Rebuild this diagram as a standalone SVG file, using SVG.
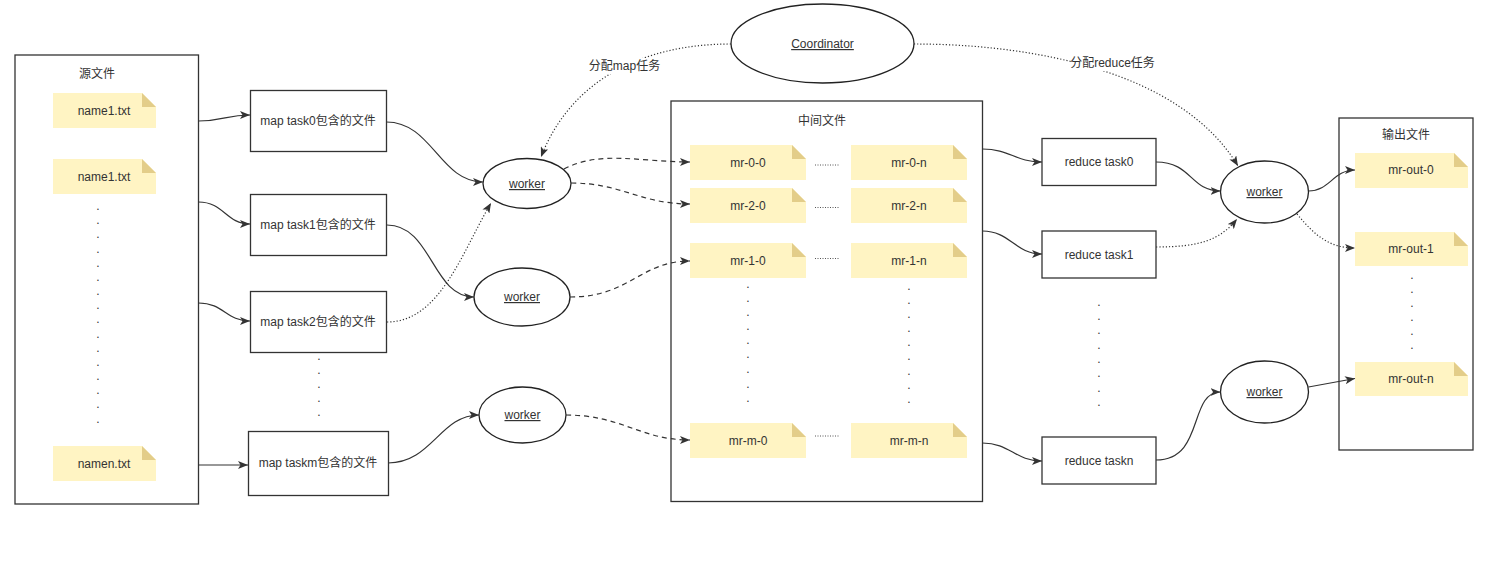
<svg xmlns="http://www.w3.org/2000/svg" width="1496" height="563" viewBox="0 0 1496 563">
<style>
text{font-family:"Liberation Sans","Noto Sans CJK SC",sans-serif;font-size:12px;fill:#333;text-anchor:middle}
.box{fill:#fff;stroke:#333;stroke-width:1.3}
.note{fill:#fff4c3}
.fold{fill:#e3cd89}
.ell{fill:#fff;stroke:#222;stroke-width:1.3}
.u{text-decoration:underline}
.c{fill:none;stroke:#333;stroke-width:1.2;marker-end:url(#arr)}
.dash{stroke-dasharray:5 4}
.dot{stroke-dasharray:1.2 2}
.dl{stroke:#555;stroke-width:1;stroke-dasharray:1 1.5}
.lbl{fill:#fff}
</style>
<defs>
<marker id="arr" markerUnits="userSpaceOnUse" markerWidth="11" markerHeight="8" refX="10" refY="4" orient="auto">
<path d="M0,0 L10,4 L0,8 L2.5,4 Z" fill="#333"/>
</marker>
</defs>

<g id="src">
<rect class="box" x="15" y="55" width="183.5" height="449"/>
<text x="97" y="78">源文件</text>
<g id="n-name1a"><path class="note" d="M53,93 H142 L156,107 V128 H53 Z"/><path class="fold" d="M142,93 L156,107 H142 Z"/><text x="104" y="115">name1.txt</text></g>
<g id="n-name1b"><path class="note" d="M53,159 H142 L156,173 V194 H53 Z"/><path class="fold" d="M142,159 L156,173 H142 Z"/><text x="104" y="181">name1.txt</text></g>
<g id="n-namen"><path class="note" d="M53,446 H142 L156,460 V481 H53 Z"/><path class="fold" d="M142,446 L156,460 H142 Z"/><text x="104" y="468">namen.txt</text></g>
<text x="98" y="210">.</text><text x="98" y="224">.</text><text x="98" y="238">.</text><text x="98" y="253">.</text><text x="98" y="267">.</text><text x="98" y="281">.</text><text x="98" y="295">.</text><text x="98" y="309">.</text><text x="98" y="323">.</text><text x="98" y="338">.</text><text x="98" y="352">.</text><text x="98" y="366">.</text><text x="98" y="380">.</text><text x="98" y="394">.</text><text x="98" y="408">.</text><text x="98" y="423">.</text>
</g>

<g id="task0"><rect class="box" x="250.5" y="90.5" width="136" height="61"/><text x="318" y="125">map task0包含的文件</text></g>
<g id="task1"><rect class="box" x="250.5" y="194.5" width="136" height="61"/><text x="318" y="229">map task1包含的文件</text></g>
<g id="task2"><rect class="box" x="250.5" y="291.5" width="136" height="61"/><text x="318" y="326">map task2包含的文件</text></g>
<g id="taskm"><rect class="box" x="248.5" y="431.5" width="140" height="64"/><text x="318" y="467">map taskm包含的文件</text></g>
<g id="taskdots"><text x="319" y="360">.</text><text x="319" y="374">.</text><text x="319" y="388">.</text><text x="319" y="402">.</text><text x="319" y="416">.</text></g>

<g id="coord"><ellipse class="ell" cx="822.5" cy="43.5" rx="91.5" ry="39.5"/><text class="u" x="822.5" y="48">Coordinator</text></g>

<g id="mw1"><ellipse class="ell" cx="527" cy="183.5" rx="44" ry="25"/><text class="u" x="527" y="188">worker</text></g>
<g id="mw2"><ellipse class="ell" cx="522" cy="297" rx="48" ry="29"/><text class="u" x="522" y="301">worker</text></g>
<g id="mw3"><ellipse class="ell" cx="522.5" cy="415" rx="43.5" ry="28"/><text class="u" x="522.5" y="419">worker</text></g>

<g id="mid">
<rect class="box" x="671" y="101" width="311.5" height="400.5"/>
<text x="822" y="125">中间文件</text>
<g id="mr00"><path class="note" d="M690,145 H792 L806,159 V180 H690 Z"/><path class="fold" d="M792,145 L806,159 H792 Z"/><text x="748" y="167">mr-0-0</text></g>
<g id="mr0n"><path class="note" d="M851,145 H953 L967,159 V180 H851 Z"/><path class="fold" d="M953,145 L967,159 H953 Z"/><text x="909" y="167">mr-0-n</text></g>
<g id="mr20"><path class="note" d="M690,188 H792 L806,202 V223 H690 Z"/><path class="fold" d="M792,188 L806,202 H792 Z"/><text x="748" y="210">mr-2-0</text></g>
<g id="mr2n"><path class="note" d="M851,188 H953 L967,202 V223 H851 Z"/><path class="fold" d="M953,188 L967,202 H953 Z"/><text x="909" y="210">mr-2-n</text></g>
<g id="mr10"><path class="note" d="M690,243 H792 L806,257 V278 H690 Z"/><path class="fold" d="M792,243 L806,257 H792 Z"/><text x="748" y="265">mr-1-0</text></g>
<g id="mr1n"><path class="note" d="M851,243 H953 L967,257 V278 H851 Z"/><path class="fold" d="M953,243 L967,257 H953 Z"/><text x="909" y="265">mr-1-n</text></g>
<g id="mrm0"><path class="note" d="M690,423 H792 L806,437 V458 H690 Z"/><path class="fold" d="M792,423 L806,437 H792 Z"/><text x="748" y="445">mr-m-0</text></g>
<g id="mrmn"><path class="note" d="M851,423 H953 L967,437 V458 H851 Z"/><path class="fold" d="M953,423 L967,437 H953 Z"/><text x="909" y="445">mr-m-n</text></g>
<line class="dl" x1="815" y1="165" x2="839" y2="165"/>
<line class="dl" x1="815" y1="207.5" x2="839" y2="207.5"/>
<line class="dl" x1="815" y1="258.5" x2="839" y2="258.5"/>
<line class="dl" x1="815" y1="436" x2="839" y2="436"/>
<text x="748" y="288">.</text><text x="748" y="302">.</text><text x="748" y="316">.</text><text x="748" y="330">.</text><text x="748" y="344">.</text><text x="748" y="358">.</text><text x="748" y="373">.</text><text x="748" y="388">.</text><text x="748" y="402">.</text>
<text x="909" y="290">.</text><text x="909" y="304">.</text><text x="909" y="318">.</text><text x="909" y="332">.</text><text x="909" y="346">.</text><text x="909" y="360">.</text><text x="909" y="375">.</text><text x="909" y="389">.</text><text x="909" y="403">.</text>
</g>

<g id="rt0"><rect class="box" x="1042" y="138.5" width="114" height="47"/><text x="1099" y="166">reduce task0</text></g>
<g id="rt1"><rect class="box" x="1042" y="231" width="114" height="47"/><text x="1099" y="259">reduce task1</text></g>
<g id="rtn"><rect class="box" x="1042" y="437" width="114" height="47"/><text x="1099" y="465">reduce taskn</text></g>
<g id="rdots"><text x="1099" y="306">.</text><text x="1099" y="320">.</text><text x="1099" y="334">.</text><text x="1099" y="349">.</text><text x="1099" y="363">.</text><text x="1099" y="377">.</text><text x="1099" y="392">.</text><text x="1099" y="406">.</text></g>

<g id="rw1"><ellipse class="ell" cx="1264.5" cy="192" rx="44" ry="31"/><text class="u" x="1264.5" y="196">worker</text></g>
<g id="rw2"><ellipse class="ell" cx="1264.5" cy="392" rx="44" ry="31"/><text class="u" x="1264.5" y="396">worker</text></g>

<g id="out">
<rect class="box" x="1339" y="118" width="134" height="332"/>
<text x="1406" y="139">输出文件</text>
<g id="out0"><path class="note" d="M1355,153 H1454 L1468,167 V188 H1355 Z"/><path class="fold" d="M1454,153 L1468,167 H1454 Z"/><text x="1411" y="174">mr-out-0</text></g>
<g id="out1"><path class="note" d="M1355,232 H1454 L1468,246 V266 H1355 Z"/><path class="fold" d="M1454,232 L1468,246 H1454 Z"/><text x="1411" y="253">mr-out-1</text></g>
<g id="outn"><path class="note" d="M1355,362 H1454 L1468,376 V396 H1355 Z"/><path class="fold" d="M1454,362 L1468,376 H1454 Z"/><text x="1411" y="383">mr-out-n</text></g>
<text x="1412" y="279">.</text><text x="1412" y="293">.</text><text x="1412" y="307">.</text><text x="1412" y="321">.</text><text x="1412" y="335">.</text><text x="1412" y="349">.</text>
</g>

<g id="connectors">
<path class="c" d="M198.5,121 C224,121 226,115 250,115"/>
<path class="c" d="M198.5,202 C224,202 226,224 250,224"/>
<path class="c" d="M198.5,303 C224,303 226,321 250,321"/>
<path class="c" d="M198.5,465 L248,465"/>
<path class="c" d="M386.5,122 C432,122 440,182 483,182"/>
<path class="c" d="M387,225 C432,225 432,297 474,297"/>
<path class="c dot" d="M387,322 C440,322 462,252 491,203"/>
<path class="c" d="M388,463 C432,463 440,415 479,415"/>
<path class="c dash" d="M564,169 C600,150 640,162 690,162"/>
<path class="c dash" d="M571,183 C622,183 640,204 690,204"/>
<path class="c dash" d="M570,297 C630,297 640,261 690,261"/>
<path class="c dash" d="M566,415 C622,415 640,440 690,440"/>
<path class="c" d="M982.5,149 C1010,149 1015,162 1042,162"/>
<path class="c" d="M982.5,231 C1010,231 1015,254 1042,254"/>
<path class="c" d="M982.5,443 C1010,443 1015,461 1042,461"/>
<path class="c" d="M1156,162 C1192,162 1190,191 1220.5,191"/>
<path class="c dot" d="M1156,247 C1200,247 1220,240 1237,219"/>
<path class="c" d="M1156,460 C1205,460 1188,392 1220.5,392"/>
<path class="c" d="M1308.5,191 C1330,191 1333,170 1355,170"/>
<path class="c dot" d="M1297,214 C1315,236 1330,248 1355,248"/>
<path class="c" d="M1308.5,387 L1355,378.5"/>
<path class="c dot" d="M731,44 C640,44 570,82 541,157"/>
<path class="c dot" d="M914,44 C1030,44 1180,70 1238,166"/>
<rect class="lbl" x="589" y="58" width="71" height="16"/>
<text x="624.5" y="70">分配map任务</text>
<rect class="lbl" x="1071" y="55" width="83" height="16"/>
<text x="1112.5" y="67">分配reduce任务</text>
</g>
</svg>
